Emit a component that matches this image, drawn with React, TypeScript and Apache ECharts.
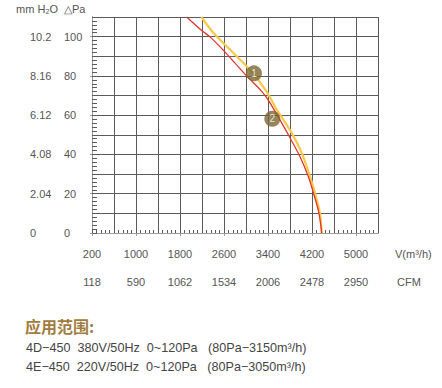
import React, { useEffect, useRef } from "react";
import * as echarts from "echarts";

// Tick labels
const vLabels = ["200", "1000", "1800", "2600", "3400", "4200", "5000"];
const cfmLabels = ["118", "590", "1062", "1534", "2006", "2478", "2950"];
const paLabels = ["0", "20", "40", "60", "80", "100"];
const mmLabels = ["0", "2.04", "4.08", "6.12", "8.16", "10.2"];

// Curves: [airflow m³/h, static pressure Pa]
const curve1: [number, number][] = [
  [2190, 110], [2405, 102], [2770, 91.7], [3075, 83], [3375, 72], [3560, 62.8],
  [3830, 51], [4015, 40.7], [4165, 28.7], [4255, 20.3], [4345, 10], [4376, 0],
];
const curve2: [number, number][] = [
  [1920, 110], [2200, 103], [2340, 100], [2590, 93], [2800, 86.5], [3010, 80],
  [3290, 72], [3420, 67], [3620, 57.5], [3800, 48.5], [3980, 39], [4130, 29],
  [4225, 20.5], [4315, 11.5], [4355, 5], [4376, 0],
];
const markers: { name: string; value: [number, number] }[] = [
  { name: "1", value: [3145, 81.3] },
  { name: "2", value: [3478, 58.2] },
];

const title = "应用范围:";
const specLines = [
  "4D−450  380V/50Hz  0~120Pa   (80Pa−3150m³/h)",
  "4E−450  220V/50Hz  0~120Pa   (80Pa−3050m³/h)",
];

const FONT = "Liberation Sans, Arial, Helvetica, sans-serif";
const GRID = "#5a5a5a";
const AX = "#9a9a9a";
const TXT = "#555";

export default function App() {
  const ref = useRef<HTMLDivElement>(null);
  useEffect(() => {
    if (!ref.current) return;
    const chart = echarts.init(ref.current, null, { renderer: "svg" });
    const option: any = {
      animation: false,
      backgroundColor: "#fff",
      textStyle: { fontFamily: FONT },
      grid: { left: 92, top: 17, width: 286, height: 216, containLabel: false, outerBoundsMode: "none" },
      xAxis: [
        { type: "value", min: 200, max: 5400, show: false },
        {
          type: "value", min: 0, max: 13, interval: 1, position: "bottom",
          axisLine: { show: true, lineStyle: { color: GRID, width: 1 } },
          axisTick: { show: true, inside: true, length: 3, lineStyle: { color: GRID } },
          minorTick: { show: true, splitNumber: 5, length: 3, lineStyle: { color: GRID } },
          splitLine: { show: true, lineStyle: { color: GRID, width: 1 } },
          axisLabel: {
            margin: 15, color: TXT, fontSize: 11, fontFamily: FONT,
            formatter: (v: number) => (v % 2 === 0 ? vLabels[v / 2] ?? "" : ""),
          },
        },
        {
          type: "value", min: 0, max: 13, interval: 2, position: "bottom", offset: 34,
          axisLine: { show: true, lineStyle: { color: AX, width: 1 } },
          axisTick: { show: true, length: 3, lineStyle: { color: AX }, customValues: cfmLabels.map((_, i) => i * 2) },
          splitLine: { show: false },
          axisLabel: {
            margin: 9, color: TXT, fontSize: 11, fontFamily: FONT,
            customValues: cfmLabels.map((_, i) => i * 2),
            formatter: (v: number) => cfmLabels[Math.round(v / 2)] ?? "",
          },
        },
      ],
      yAxis: [
        {
          type: "value", min: 0, max: 110, interval: 10, position: "left",
          axisLine: { show: true, lineStyle: { color: GRID, width: 1 } },
          axisTick: { show: true, inside: true, length: 5, lineStyle: { color: GRID } },
          minorTick: { show: true, splitNumber: 5, length: 5, lineStyle: { color: GRID } },
          splitLine: { show: true, lineStyle: { color: GRID, width: 1 } },
          axisLabel: { show: false },
        },
        {
          type: "value", min: 0, max: 110, interval: 20, position: "left", offset: 33,
          axisLine: { show: true, lineStyle: { color: AX, width: 1 } },
          axisTick: { show: true, length: 2, lineStyle: { color: AX }, customValues: paLabels.map((_, i) => i * 20) },
          splitLine: { show: false },
          axisLabel: {
            inside: true, margin: 5, color: TXT, fontSize: 11, fontFamily: FONT,
            customValues: paLabels.map((_, i) => i * 20),
            formatter: (v: number) => (v % 20 === 0 ? paLabels[v / 20] ?? "" : ""),
          },
        },
        {
          type: "value", min: 0, max: 110, interval: 20, position: "left", offset: 33,
          axisLine: { show: false }, axisTick: { show: false }, splitLine: { show: false },
          axisLabel: {
            margin: 29, align: "left", color: TXT, fontSize: 11, fontFamily: FONT,
            customValues: mmLabels.map((_, i) => i * 20),
            formatter: (v: number) => (v % 20 === 0 ? mmLabels[v / 20] ?? "" : ""),
          },
        },
      ],
      series: [
        {
          type: "line", name: "1", xAxisIndex: 0, yAxisIndex: 0, data: curve1, smooth: 0.3,
          showSymbol: false, clip: true, z: 3,
          lineStyle: { color: "#f6c84c", width: 2.2 },
        },
        {
          type: "line", name: "2", xAxisIndex: 0, yAxisIndex: 0, data: curve2, smooth: 0.3,
          showSymbol: false, clip: true, z: 4,
          lineStyle: { color: "#e2352b", width: 1.3 },
        },
        {
          type: "scatter", xAxisIndex: 0, yAxisIndex: 0, data: markers, symbolSize: 16, z: 5,
          itemStyle: { color: "#7c6633" },
          label: {
            show: true, position: "inside", color: "#fff", fontSize: 10, fontFamily: FONT,
            formatter: (p: any) => p.name,
          },
        },
      ],
      graphic: [
        { type: "text", left: 16, top: 3, style: { text: "mm H₂O", fill: TXT, font: `11px ${FONT}` } },
        { type: "text", left: 64, top: 3, style: { text: "△Pa", fill: TXT, font: `11px ${FONT}` } },
        { type: "text", left: 395, top: 248, style: { text: "V(m³/h)", fill: TXT, font: `11px ${FONT}` } },
        { type: "text", left: 397, top: 276, style: { text: "CFM", fill: TXT, font: `11px ${FONT}` } },
        {
          type: "text", left: 25, top: 318,
          style: { text: title, fill: "#a07c3e", font: `bold 16px "Noto Sans CJK SC", sans-serif` },
        },
        { type: "text", left: 26, top: 341, style: { text: specLines[0], fill: "#444", font: `12.6px ${FONT}` } },
        { type: "text", left: 26, top: 360, style: { text: specLines[1], fill: "#444", font: `12.6px ${FONT}` } },
      ],
    };
    chart.setOption(option);
    return () => chart.dispose();
  }, []);
  return (
    <div
      ref={ref}
      style={{ position: "fixed", left: 0, top: 0, width: 442, height: 388, background: "#fff" }}
    />
  );
}
